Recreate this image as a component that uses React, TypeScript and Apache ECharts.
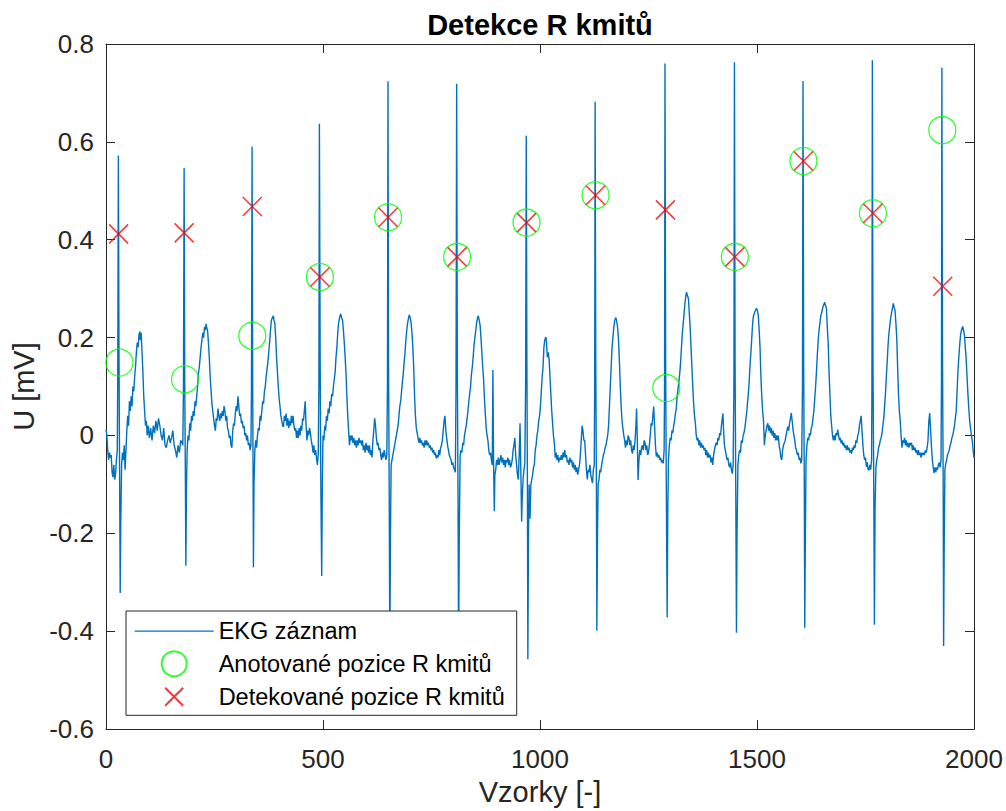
import React, { useEffect, useRef } from "react";
import * as echarts from "echarts";

const FONT = "'Liberation Sans', Arial, Helvetica, sans-serif";
const AXIS_COLOR = "#262626";

const chartTitle = "Detekce R kmitů";
const xAxisName = "Vzorky [-]";
const yAxisName = "U [mV]";
const seriesNames = ["EKG záznam", "Anotované pozice R kmitů", "Detekované pozice R kmitů"];
const xTicks = { min: 0, max: 2000, interval: 500 };
const yTicks = { min: -0.6, max: 0.8, interval: 0.2 };

// Annotated R peak positions (green circles)
const annotatedX = [31, 182, 337, 493, 650, 809, 969, 1128, 1291, 1449, 1607, 1767, 1927];
const annotatedY = [0.149, 0.115, 0.204, 0.324, 0.446, 0.365, 0.435, 0.491, 0.097, 0.365, 0.561, 0.454, 0.624];

// Detected R peak positions (red crosses)
const detectedX = [29, 180, 337, 493, 650, 809, 969, 1128, 1289, 1449, 1607, 1767, 1928];
const detectedY = [0.412, 0.414, 0.468, 0.324, 0.446, 0.365, 0.435, 0.491, 0.461, 0.365, 0.561, 0.454, 0.305];

// EKG record, [sample, mV]
const ekg: [number, number][] = [
  [0,0.012],[2,0.0],[4,-0.03],[6,-0.05],[8,-0.035],[10,-0.045],[12,-0.04],[14,-0.075],[16,-0.085],[18,-0.06],[20,-0.09],[22,-0.08],[24,-0.05],[26,-0.03],[27,0.1],[28.5,0.572],[30,0.15],[31.5,-0.1],[32.7,-0.322],[34,-0.18],[36,-0.06],[38,-0.035],[40,-0.05],[42,-0.02],[44,-0.07],[46,-0.03],[48,0.01],[50,0.04],[52,0.02],[54,0.07],[56,0.05],[58,0.08],[60,0.06],[62,0.1],[64,0.09],[66,0.12],[68,0.14],[70,0.17],[72,0.19],[74,0.18],[76,0.205],[78,0.2125],[79,0.195],[81,0.21],[83,0.17],[85,0.13],[87,0.08],[89,0.05],[91,0.02],[93,0.03],[95,0.0],[97,0.02],[100,-0.005],[103,0.015],[106,-0.01],[109,0.02],[112,0.005],[115,0.03],[118,0.01],[121,0.035],[124,0.02],[127,0.0],[130,-0.01],[133,0.015],[136,-0.02],[139,-0.025],[142,-0.01],[145,0.0],[148,-0.015],[151,-0.005],[154,0.01],[157,-0.02],[160,-0.03],[163,-0.045],[166,-0.02],[169,-0.035],[172,-0.01],[175,-0.015],[177,-0.02],[178.5,0.1],[180,0.5466],[181.5,0.1],[183,-0.1],[184,-0.266],[185.5,-0.1],
  [187,-0.03],[189,0.0],[191,-0.01],[193,0.025],[195,0.01],[197,0.04],[199,0.03],[201,0.05],[203,0.04],[205,0.07],[207,0.06],[209,0.08],[211,0.1],[213,0.127],[215,0.14],[217,0.16],[219,0.18],[221,0.195],[223,0.21],[225,0.2],[227,0.222],[229,0.215],[230.7,0.228],[232,0.22],[234,0.215],[236,0.19],[238,0.16],[240,0.12],[242,0.093],[244,0.065],[246,0.05],[248,0.035],
  [250,0.02],[252,0.01],[254,0.035],[256,0.03],[258,0.055],[260,0.04],[262,0.03],[264,0.045],[266,0.035],[268,0.05],[270,0.04],[272,0.06],[274,0.05],[276,0.03],[278,0.04],[280,0.015],[282,0.01],[284,-0.005],[286,0.0],[288,-0.02],[290,-0.025],[292,0.01],[294,0.025],[296,0.02],[298,0.045],[300,0.06],[302,0.05],[304,0.08],[306,0.06],[308,0.04],[310,0.045],[312,0.025],[314,0.03],[316,0.015],[318,0.02],[320,0.0],[322,0.005],[324,-0.01],[326,0.0],[328,-0.02],[330,-0.015],[332,-0.03],[334,-0.02],[335.2,0.1],[336.6,0.59],[338,0.1],[339,-0.1],[339.7,-0.269],[341,-0.1],[343,-0.03],
  [345,-0.01],[347,-0.025],[349,0.0],[351,0.015],[353,0.01],[355,0.04],[357,0.03],[359,0.05],[361,0.07],[363,0.065],[365,0.09],[367,0.1],[369,0.12],[371,0.135],[373,0.15],[375,0.17],[377,0.19],[379,0.215],[381,0.235],[383,0.24],[385.7,0.2446],[387,0.235],[389,0.23],[391,0.2],[393,0.16],[395,0.13],[397,0.1],[399,0.075],[401,0.059],[403,0.04],[405,0.03],[407,0.02],[409,0.018],
  [411,0.04],[413,0.03],[415,0.045],[417,0.02],[419,0.035],[421,0.015],[423,0.03],[425,0.02],[427,0.04],[429,0.025],[431,0.04],[433,0.02],[435,0.01],[437,0.015],[439,-0.005],[441,0.01],[443,-0.005],[445,0.015],[447,0.0],[449,0.02],[451,0.01],[453,0.035],[455,0.03],[457,0.05],[459,0.07],[461,0.02],[463,-0.01],[465,0.01],[467,0.0],[469,0.015],[471,0.005],[473,-0.01],[475,-0.02],[477,-0.035],[479,-0.02],[481,-0.04],[483,-0.03],[485,-0.045],[487,-0.06],[489,-0.04],[490.5,0.1],[491.7,0.637],[493.5,0.15],[495,-0.1],[497,-0.287],[498.5,-0.1],[500,0.0],
  [502,-0.01],[504,0.02],[506,0.01],[508,0.04],[510,0.03],[512,0.055],[514,0.045],[516,0.07],[518,0.06],[520,0.085],[522,0.08],[524,0.1],[526,0.115],[528,0.13],[530,0.16],[532,0.18],[534,0.21],[536,0.23],[538,0.24],[540.8,0.2487],[543,0.24],[545,0.236],[547,0.215],[549,0.19],[551,0.16],[553,0.127],[555,0.08],[557,0.04],[559,0.01],
  [561,-0.02],[563,0.0],[565,-0.01],[567,0.0],[569,-0.015],[571,-0.005],[573,-0.02],[575,-0.01],[577,-0.025],[579,-0.01],[581,-0.02],[583,-0.005],[585,-0.015],[587,-0.01],[589,-0.02],[591,-0.01],[593,-0.03],[595,-0.02],[597,-0.035],[599,-0.015],[601,-0.03],[603,-0.02],[605,-0.035],[607,-0.02],[609,-0.04],[611,-0.03],[613,-0.045],[615,-0.01],[617,0.01],[619,0.035],[621,0.02],[623,-0.005],[625,-0.02],[627,-0.015],[629,-0.03],[631,-0.025],[633,-0.04],[635,-0.05],[637,-0.035],[639,-0.045],[641,-0.03],[643,-0.04],[645,-0.05],[647,-0.04],[648.5,0.1],[649.8,0.7237],[651,0.15],[652.5,-0.1],[654,-0.45],[655.5,-0.2],[657,-0.06],
  [659,-0.05],[661,-0.04],[663,-0.03],[665,-0.02],[667,-0.01],[669,0.0],[671,0.01],[673,0.02],[675,0.04],[677,0.06],[679,0.07],[681,0.09],[683,0.11],[685,0.127],[687,0.15],[689,0.17],[691,0.195],[693,0.215],[695,0.23],[697,0.24],[698.9,0.2466],[701,0.24],[703,0.23],[705,0.21],[707,0.18],[709,0.14],[711,0.08],[713,0.04],[715,0.015],[717,0.005],
  [719,-0.005],[721,-0.015],[723,-0.005],[725,-0.015],[727,-0.01],[729,-0.02],[731,-0.015],[733,-0.025],[735,-0.01],[737,-0.02],[739,-0.01],[741,-0.02],[743,-0.015],[745,-0.025],[747,-0.02],[749,-0.03],[751,-0.025],[753,-0.035],[755,-0.03],[757,-0.04],[759,-0.035],[761,-0.047],[763,-0.04],[765,-0.045],[767,-0.03],[769,-0.04],[771,-0.025],[773,-0.02],[775,-0.01],[777,0.01],[779,0.03],[781,0.04],[783,0.01],[785,-0.005],[787,-0.02],[789,-0.03],[791,-0.04],[793,-0.045],[795,-0.05],[797,-0.06],[799,-0.055],[801,-0.065],[803,-0.07],[805,-0.075],[806.5,0.1],[808,0.719],[809.5,0.15],[811,-0.1],[812.5,-0.44],[814,-0.2],[816,-0.04],
  [818,-0.03],[820,-0.035],[822,-0.015],[824,-0.02],[826,0.0],[828,0.01],[830,0.02],[832,0.035],[834,0.05],[836,0.07],[838,0.085],[840,0.1],[842,0.125],[844,0.14],[846,0.16],[848,0.185],[850,0.2],[852,0.215],[854,0.23],[856,0.24],[857.8,0.2446],[860,0.235],[862,0.225],[864,0.2],[866,0.17],[868,0.14],[870,0.115],[872,0.075],[874,0.045],[876,0.015],[878,0.0],
  [880,-0.01],[882,-0.03],[884,-0.04],[886,-0.035],[888,-0.05],[890,-0.06],[891.5,0.134],[893,-0.05],[894.7,-0.155],[896,-0.08],[898,-0.07],[900,-0.05],[902,-0.06],[904,-0.045],[906,-0.06],[908,-0.05],[910,-0.04],[912,-0.055],[914,-0.045],[916,-0.06],[918,-0.05],[920,-0.065],[922,-0.05],[924,-0.055],[926,-0.045],[928,-0.06],[930,-0.05],[932,-0.065],[934,-0.06],[936,-0.05],[938,-0.03],[940,-0.02],[942,-0.005],[944,-0.04],[946,-0.06],[948,-0.08],[950,-0.09],[952,-0.04],[954,0.025],[956,-0.08],[957.7,-0.176],[959,-0.13],[961,-0.09],[963,-0.07],[965,-0.057],[966.8,0.1],[968.3,0.6127],[969.8,0.15],[971,-0.1],[972,-0.4575],[973.5,-0.2],[975,-0.1],
  [977,-0.17],[979,-0.1],[981,-0.09],[983,-0.08],[985,-0.065],[987,-0.06],[989,-0.03],[991,-0.02],[993,0.0],[995,0.01],[997,0.03],[999,0.04],[1001,0.06],[1003,0.09],[1005,0.12],[1007,0.14],[1009,0.18],[1011,0.195],[1013.6,0.201],[1015,0.19],[1017,0.16],[1019,0.17],[1021,0.155],[1023,0.12],[1025,0.085],[1027,0.05],[1029,0.025],[1031,0.0],[1033,-0.015],
  [1035,-0.045],[1037,-0.035],[1039,-0.05],[1041,-0.04],[1043,-0.055],[1045,-0.045],[1047,-0.05],[1049,-0.04],[1051,-0.05],[1053,-0.035],[1055,-0.045],[1057,-0.03],[1059,-0.045],[1061,-0.04],[1063,-0.055],[1065,-0.05],[1067,-0.06],[1069,-0.045],[1071,-0.055],[1073,-0.05],[1075,-0.065],[1077,-0.055],[1079,-0.07],[1081,-0.06],[1083,-0.075],[1085,-0.065],[1087,-0.08],[1089,-0.07],[1091,-0.06],[1093,-0.04],[1095,-0.01],[1097,0.02],[1099,0.01],[1101,-0.01],[1103,-0.01],[1105,-0.04],[1107,-0.07],[1109,-0.09],[1111,-0.07],[1113,-0.075],[1115,-0.06],[1117,-0.08],[1119,-0.09],[1121,-0.097],[1123,-0.07],[1125,-0.06],[1126,0.1],[1127,0.682],[1128.5,0.15],[1130,-0.1],[1131,-0.399],[1132.5,-0.2],[1134,-0.1],
  [1136,-0.09],[1138,-0.07],[1140,-0.075],[1142,-0.06],[1144,-0.05],[1146,-0.04],[1148,-0.035],[1150,-0.025],[1152,-0.02],[1154,-0.01],[1156,0.0],[1158,0.02],[1160,0.06],[1162,0.1],[1164,0.14],[1166,0.18],[1168,0.2],[1170,0.22],[1172,0.235],[1174.8,0.241],[1177,0.232],[1179,0.22],[1181,0.195],[1183,0.15],[1185,0.1],[1187,0.06],[1189,0.03],[1191,0.015],
  [1193,0.0],[1195,-0.01],[1197,-0.025],[1199,-0.01],[1201,-0.02],[1203,0.0],[1205,-0.005],[1207,-0.02],[1209,-0.01],[1211,-0.03],[1213,-0.037],[1215,-0.02],[1217,-0.03],[1219,-0.01],[1221,0.02],[1222.5,0.055],[1224,0.0],[1226,-0.091],[1228,-0.05],[1230,-0.03],[1232,-0.04],[1234,-0.025],[1236,-0.02],[1238,-0.03],[1240,-0.01],[1242,-0.015],[1244,-0.03],[1246,-0.02],[1248,-0.04],[1250,-0.035],[1252,-0.02],[1254,0.0],[1256,0.025],[1258,0.02],[1260,0.04],[1262,0.059],[1264,0.02],[1266,-0.02],[1268,-0.043],[1270,-0.035],[1272,-0.045],[1274,-0.04],[1276,-0.05],[1278,-0.045],[1280,-0.055],[1282,-0.05],[1284,-0.057],[1286,-0.03],[1287,0.1],[1288,0.76],[1289.5,0.15],[1291,-0.1],[1293,-0.372],[1294.5,-0.15],[1296,-0.05],
  [1298,-0.02],[1300,-0.005],[1302,-0.01],[1304,0.01],[1306,0.005],[1308,0.02],[1310,0.03],[1312,0.045],[1314,0.055],[1316,0.08],[1318,0.095],[1320,0.11],[1322,0.127],[1324,0.15],[1326,0.18],[1328,0.21],[1330,0.229],[1332,0.25],[1334,0.27],[1336,0.285],[1337.6,0.293],[1340,0.285],[1342,0.28],[1344,0.25],[1346,0.22],[1348,0.18],[1350,0.14],[1352,0.1],[1354,0.065],[1356,0.04],[1358,0.025],[1360,0.0],
  [1362,-0.01],[1364,-0.005],[1366,-0.02],[1368,-0.01],[1370,-0.025],[1372,-0.015],[1374,-0.025],[1376,-0.02],[1378,-0.03],[1380,-0.025],[1382,-0.04],[1384,-0.03],[1386,-0.045],[1388,-0.035],[1390,-0.045],[1392,-0.04],[1394,-0.055],[1396,-0.045],[1398,-0.06],[1400,-0.04],[1402,-0.03],[1404,-0.02],[1406,-0.015],[1408,-0.02],[1410,-0.005],[1412,-0.01],[1414,0.005],[1416,0.0],[1418,0.02],[1420,0.035],[1421.5,0.045],[1423,0.01],[1425,-0.02],[1427,-0.03],[1429,-0.04],[1431,-0.05],[1433,-0.045],[1435,-0.06],[1437,-0.065],[1439,-0.055],[1441,-0.07],[1443,-0.078],[1445,-0.06],[1446.8,0.1],[1448,0.7626],[1449.5,0.15],[1451,-0.1],[1452.7,-0.403],[1454,-0.2],[1456,-0.06],
  [1458,-0.04],[1460,-0.03],[1462,-0.035],[1464,-0.01],[1466,-0.015],[1468,0.0],[1470,0.005],[1472,0.015],[1474,0.03],[1476,0.045],[1478,0.065],[1480,0.085],[1482,0.11],[1484,0.145],[1486,0.17],[1488,0.2],[1490,0.23],[1492,0.245],[1494,0.25],[1496,0.255],[1498.9,0.26],[1501,0.255],[1503,0.245],[1505,0.215],[1507,0.18],[1509,0.12],[1511,0.08],[1513,0.05],[1515,0.03],[1517,-0.02],
  [1519,0.0],[1521,0.01],[1523,0.02],[1525,0.025],[1527,0.01],[1529,0.02],[1531,0.005],[1533,0.015],[1535,0.0],[1537,0.01],[1539,-0.005],[1541,0.005],[1543,-0.01],[1545,0.0],[1547,-0.01],[1549,0.0],[1551,-0.02],[1553,-0.03],[1555,-0.045],[1557,-0.05],[1559,-0.03],[1561,-0.02],[1563,-0.015],[1565,-0.01],[1567,0.0],[1569,0.01],[1571,0.018],[1573,0.01],[1575,0.025],[1577,0.035],[1579,0.046],[1581,0.03],[1583,0.012],[1585,0.0],[1587,-0.01],[1589,-0.025],[1591,-0.03],[1593,-0.04],[1595,-0.035],[1597,-0.05],[1599,-0.045],[1601,-0.057],[1603,-0.05],[1604.8,0.1],[1606,0.7245],[1607.5,0.15],[1609,-0.1],[1610,-0.393],[1611.5,-0.2],[1613,-0.05],
  [1615,-0.02],[1617,-0.005],[1619,-0.01],[1621,0.005],[1623,0.0],[1625,0.015],[1627,0.02],[1629,0.035],[1631,0.05],[1633,0.075],[1635,0.1],[1637,0.13],[1639,0.165],[1641,0.195],[1643,0.215],[1645,0.23],[1647,0.245],[1649,0.25],[1651,0.26],[1653,0.265],[1656,0.2725],[1658,0.265],[1660,0.26],[1662,0.22],[1664,0.19],[1666,0.13],[1668,0.085],[1670,0.04],[1672,0.02],
  [1674,0.0],[1676,-0.01],[1678,0.0],[1680,-0.01],[1682,0.005],[1684,0.0],[1686,0.012],[1688,0.0],[1690,-0.01],[1692,-0.005],[1694,-0.016],[1696,-0.01],[1698,-0.02],[1700,-0.015],[1702,-0.025],[1704,-0.02],[1706,-0.03],[1708,-0.02],[1710,-0.03],[1712,-0.025],[1714,-0.035],[1716,-0.03],[1718,-0.037],[1720,-0.025],[1722,-0.03],[1724,-0.02],[1726,-0.025],[1728,-0.01],[1730,-0.015],[1732,0.0],[1734,0.005],[1736,0.02],[1738,0.03],[1740,0.04],[1742,0.01],[1744,-0.02],[1746,-0.04],[1748,-0.05],[1750,-0.045],[1752,-0.064],[1754,-0.055],[1756,-0.07],[1758,-0.071],[1760,-0.06],[1762,-0.07],[1764,-0.05],[1764.8,0.1],[1765.8,0.7667],[1767.2,0.15],[1769,-0.1],[1770.5,-0.387],[1772,-0.15],[1774,-0.064],
  [1776,-0.05],[1778,-0.04],[1780,-0.025],[1782,-0.02],[1784,-0.01],[1786,-0.005],[1788,0.005],[1790,0.02],[1792,0.035],[1794,0.06],[1796,0.085],[1798,0.12],[1800,0.15],[1802,0.185],[1804,0.209],[1806,0.225],[1808,0.24],[1810,0.25],[1812,0.26],[1814,0.27],[1816,0.262],[1818,0.256],[1820,0.23],[1822,0.2],[1824,0.14],[1826,0.085],[1828,0.05],[1830,0.03],[1832,0.0],
  [1834,-0.025],[1836,-0.01],[1838,-0.015],[1840,-0.005],[1842,-0.02],[1844,-0.01],[1846,-0.023],[1848,-0.015],[1850,-0.025],[1852,-0.015],[1854,-0.02],[1856,-0.015],[1858,-0.03],[1860,-0.02],[1862,-0.03],[1864,-0.025],[1866,-0.035],[1868,-0.03],[1870,-0.04],[1872,-0.03],[1874,-0.04],[1876,-0.035],[1878,-0.045],[1880,-0.035],[1882,-0.04],[1884,-0.035],[1886,-0.04],[1888,-0.03],[1890,-0.035],[1892,-0.025],[1894,-0.01],[1896,0.03],[1898,0.046],[1900,0.01],[1902,-0.023],[1904,-0.05],[1906,-0.065],[1908,-0.077],[1910,-0.065],[1912,-0.075],[1914,-0.065],[1916,-0.07],[1918,-0.06],[1920,-0.055],[1922,-0.065],[1924,-0.05],[1925,0.1],[1926,0.7517],[1927.5,0.15],[1929,-0.1],[1930,-0.43],[1931.5,-0.2],[1933,-0.07],
  [1935,-0.057],[1937,-0.05],[1939,-0.04],[1941,-0.035],[1943,-0.03],[1945,-0.02],[1947,-0.015],[1949,-0.005],[1951,0.0],[1953,0.01],[1955,0.02],[1957,0.035],[1959,0.05],[1961,0.09],[1963,0.13],[1965,0.16],[1967,0.185],[1969,0.205],[1971,0.215],[1974,0.2227],[1976,0.215],[1978,0.205],[1980,0.18],[1982,0.155],[1984,0.12],[1986,0.085],[1988,0.055],[1990,0.03],[1992,0.015],[1994,0.0],[1996,-0.01],[1998,-0.03],[2000,-0.046],
];

const axisLineStyle = { show: true, onZero: false, lineStyle: { color: AXIS_COLOR, width: 1 } };
const axisTickStyle = { show: true, inside: true, length: 9, lineStyle: { color: AXIS_COLOR, width: 1 } };
const plainNumber = (v: number) => String(Math.round(v * 1000) / 1000);

export default function App() {
  const ref = useRef<HTMLDivElement>(null);

  useEffect(() => {
    document.body.style.margin = "0";
    if (!ref.current) return;
    const chart = echarts.init(ref.current, undefined, { renderer: "svg" });

    const option = {
      animation: false,
      backgroundColor: "#ffffff",
      title: {
        text: chartTitle,
        left: 540,
        top: 10,
        textAlign: "center",
        padding: 0,
        textStyle: { fontFamily: FONT, fontSize: 29, fontWeight: "bold", color: "#000000" },
      },
      grid: { left: 106, top: 44, width: 868, height: 686, containLabel: false },
      legend: {
        orient: "vertical",
        left: 126,
        top: 611,
        align: "left",
        itemWidth: 79,
        itemHeight: 25,
        itemGap: 6,
        padding: [7, 12, 5, 8],
        backgroundColor: "#ffffff",
        borderColor: AXIS_COLOR,
        borderWidth: 1,
        borderRadius: 0,
        selectedMode: false,
        textStyle: { fontFamily: FONT, fontSize: 23.5, color: "#000000", lineHeight: 25 },
        data: [
          {
            name: seriesNames[0],
            icon: "path://M0,0M79,25M0,12.5L79,12.5",
            itemStyle: { color: "rgba(0,0,0,0)", borderColor: "#0072BD", borderWidth: 1.3 },
          },
          { name: seriesNames[1] },
          { name: seriesNames[2], icon: "path://M0,0M25,25M3.5,3.5L21.5,21.5M21.5,3.5L3.5,21.5" },
        ],
      },
      xAxis: [
        {
          type: "value",
          position: "bottom",
          min: xTicks.min,
          max: xTicks.max,
          interval: xTicks.interval,
          name: xAxisName,
          nameLocation: "middle",
          nameGap: 46,
          nameTextStyle: { fontFamily: FONT, fontSize: 29, color: AXIS_COLOR },
          axisLine: axisLineStyle,
          axisTick: axisTickStyle,
          axisLabel: { fontFamily: FONT, fontSize: 26, color: AXIS_COLOR, margin: 17, formatter: plainNumber },
          splitLine: { show: false },
        },
        {
          type: "value",
          position: "top",
          min: xTicks.min,
          max: xTicks.max,
          interval: xTicks.interval,
          axisLine: axisLineStyle,
          axisTick: axisTickStyle,
          axisLabel: { show: false },
          splitLine: { show: false },
        },
      ],
      yAxis: [
        {
          type: "value",
          position: "left",
          min: yTicks.min,
          max: yTicks.max,
          interval: yTicks.interval,
          name: yAxisName,
          nameLocation: "middle",
          nameGap: 61,
          nameTextStyle: { fontFamily: FONT, fontSize: 29, color: AXIS_COLOR },
          axisLine: axisLineStyle,
          axisTick: axisTickStyle,
          axisLabel: { fontFamily: FONT, fontSize: 26, color: AXIS_COLOR, margin: 12, formatter: plainNumber },
          splitLine: { show: false },
        },
        {
          type: "value",
          position: "right",
          min: yTicks.min,
          max: yTicks.max,
          interval: yTicks.interval,
          axisLine: axisLineStyle,
          axisTick: axisTickStyle,
          axisLabel: { show: false },
          splitLine: { show: false },
        },
      ],
      series: [
        {
          name: seriesNames[0],
          type: "line",
          xAxisIndex: 0,
          yAxisIndex: 0,
          data: ekg,
          symbol: "none",
          showSymbol: false,
          lineStyle: { color: "#0072BD", width: 1.4 },
          itemStyle: { color: "#0072BD" },
          z: 2,
        },
        {
          name: seriesNames[1],
          type: "scatter",
          xAxisIndex: 0,
          yAxisIndex: 0,
          data: annotatedX.map((x, i) => [x, annotatedY[i]]),
          symbol: "circle",
          symbolSize: 27,
          itemStyle: { color: "rgba(0,0,0,0)", borderColor: "#00FF00", borderWidth: 1.3 },
          z: 3,
        },
        {
          name: seriesNames[2],
          type: "scatter",
          xAxisIndex: 0,
          yAxisIndex: 0,
          data: detectedX.map((x, i) => [x, detectedY[i]]),
          symbol: "path://M0,0L10,10M10,0L0,10",
          symbolSize: 19,
          itemStyle: { color: "#FF0000", borderColor: "#FF0000", borderWidth: 1.5 },
          z: 4,
        },
      ],
    };

    chart.setOption(option as any);
    return () => {
      chart.dispose();
    };
  }, []);

  return <div ref={ref} style={{ width: 1006, height: 811 }} />;
}
